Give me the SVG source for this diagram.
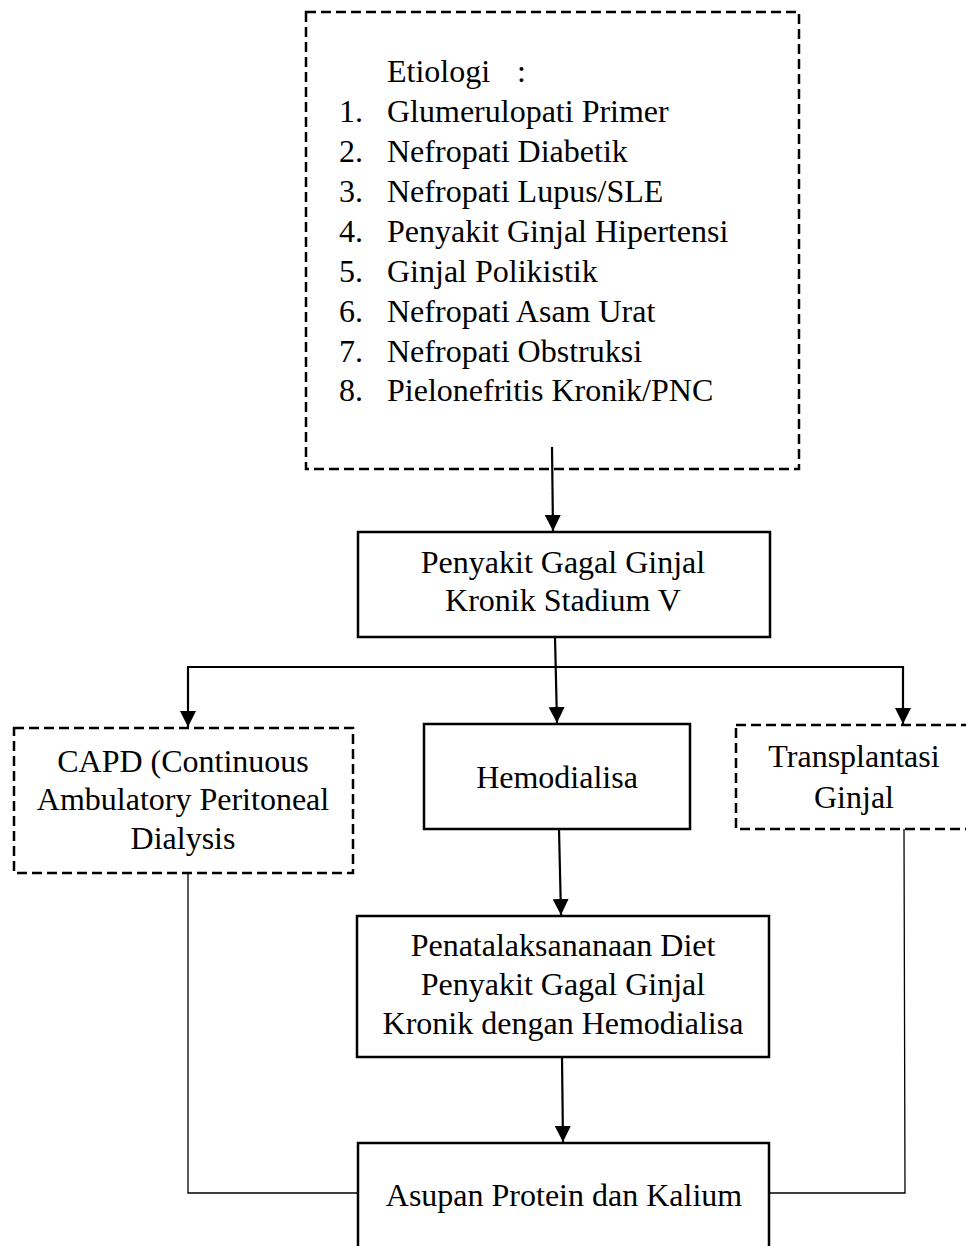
<svg xmlns="http://www.w3.org/2000/svg" width="966" height="1246" viewBox="0 0 966 1246">
<defs>
<style>
.t{font-family:"Liberation Serif","Times New Roman",serif;font-size:32px;fill:#000}
.c{text-anchor:middle}
.dash{fill:#fff;stroke:#000;stroke-width:2.5;stroke-dasharray:10 5}
.solid{fill:#fff;stroke:#000;stroke-width:2.5}
.ln{fill:none;stroke:#000;stroke-width:2.2}
.thin{fill:none;stroke:#000;stroke-width:1.3}
</style>
<marker id="ah" viewBox="0 0 16 16" markerWidth="16" markerHeight="16" markerUnits="userSpaceOnUse" refX="16" refY="8" orient="auto">
<path d="M0,0 L16,8 L0,16 z" fill="#000"/>
</marker>
</defs>
<rect width="966" height="1246" fill="#fff"/>
<g id="etiologi">
<rect class="dash" x="306" y="12" width="493" height="457"/>
<text class="t" x="387" y="82">Etiologi</text>
<text class="t" x="517" y="82">:</text>
<text class="t" x="339" y="122">1.</text><text class="t" x="387" y="122">Glumerulopati Primer</text>
<text class="t" x="339" y="162">2.</text><text class="t" x="387" y="162">Nefropati Diabetik</text>
<text class="t" x="339" y="202">3.</text><text class="t" x="387" y="202">Nefropati Lupus/SLE</text>
<text class="t" x="339" y="242">4.</text><text class="t" x="387" y="242">Penyakit Ginjal Hipertensi</text>
<text class="t" x="339" y="282">5.</text><text class="t" x="387" y="282">Ginjal Polikistik</text>
<text class="t" x="339" y="322">6.</text><text class="t" x="387" y="322">Nefropati Asam Urat</text>
<text class="t" x="339" y="362">7.</text><text class="t" x="387" y="362">Nefropati Obstruksi</text>
<text class="t" x="339" y="401">8.</text><text class="t" x="387" y="401">Pielonefritis Kronik/PNC</text>
</g>
<g id="pggk">
<rect class="solid" x="358" y="532" width="412" height="105"/>
<text class="t c" x="563" y="573">Penyakit Gagal Ginjal</text>
<text class="t c" x="563" y="611">Kronik Stadium V</text>
</g>
<g id="capd">
<rect class="dash" x="14" y="728" width="339" height="145"/>
<text class="t c" x="183" y="772">CAPD (Continuous</text>
<text class="t c" x="183" y="810">Ambulatory Peritoneal</text>
<text class="t c" x="183" y="849">Dialysis</text>
</g>
<g id="hemodialisa">
<rect class="solid" x="424" y="724" width="266" height="105"/>
<text class="t c" x="557" y="788">Hemodialisa</text>
</g>
<g id="transplantasi">
<rect class="dash" x="736" y="725" width="240" height="104"/>
<text class="t c" x="854" y="767">Transplantasi</text>
<text class="t c" x="854" y="808">Ginjal</text>
</g>
<g id="diet">
<rect class="solid" x="357" y="916" width="412" height="141"/>
<text class="t c" x="563" y="956">Penatalaksananaan Diet</text>
<text class="t c" x="563" y="995">Penyakit Gagal Ginjal</text>
<text class="t c" x="563" y="1034">Kronik dengan Hemodialisa</text>
</g>
<g id="asupan">
<rect class="solid" x="358" y="1143" width="411" height="120"/>
<text class="t c" x="564" y="1206">Asupan Protein dan Kalium</text>
</g>
<g id="connectors">
<line class="ln" x1="552" y1="447" x2="553" y2="531" marker-end="url(#ah)"/>
<line class="ln" x1="555" y1="637" x2="557" y2="723" marker-end="url(#ah)"/>
<polyline class="ln" points="188,667 903,667 903,724" marker-end="url(#ah)"/>
<line class="ln" x1="188" y1="666" x2="188" y2="727" marker-end="url(#ah)"/>
<line class="ln" x1="559" y1="829" x2="561" y2="915" marker-end="url(#ah)"/>
<line class="ln" x1="562" y1="1057" x2="563" y2="1142" marker-end="url(#ah)"/>
<polyline class="thin" points="188,873 188,1193 358,1193"/>
<polyline class="thin" points="904,829 905,1193 769,1193"/>
</g>
</svg>
